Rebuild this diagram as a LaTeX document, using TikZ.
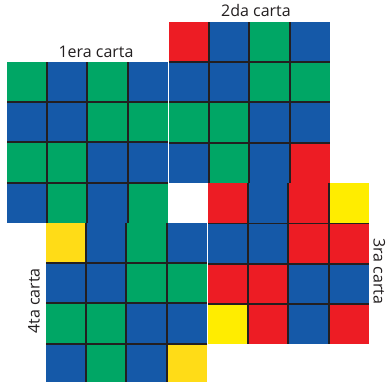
\documentclass[tikz,border=0pt]{standalone}
\usepackage{fontspec}
\setmainfont{Open Sans}
\definecolor{cG}{HTML}{00A665}
\definecolor{cB}{HTML}{1559A8}
\definecolor{cR}{HTML}{ED1C24}
\definecolor{cY}{HTML}{FFED00}
\definecolor{cO}{HTML}{FFDC17}
\definecolor{cLine}{HTML}{231F20}
\tikzset{
  gridline/.style={line width=1.9pt, draw=cLine},
  lbl/.style={font=\fontsize{16}{19}\selectfont, text=cLine, inner sep=0pt}
}
\newcommand\drawcard[3]{%
  \begin{scope}[shift={(#1,#2)}]
    \foreach \rowlist [count=\r from 0] in {#3} {
      \foreach \cc [count=\k from 0] in \rowlist {
        \fill[c\cc] (\k*40.2,\r*40.2) rectangle ++(40.2,40.2);
      }
    }
    \foreach \i in {1,2,3} {
      \draw[gridline] (\i*40.2,0) -- (\i*40.2,160.8);
      \draw[gridline] (0,\i*40.2) -- (160.8,\i*40.2);
    }
  \end{scope}}
\begin{document}
\begin{tikzpicture}[x=1pt,y=-1pt]
  \useasboundingbox (0,0) rectangle (387,381);
  \clip (0,0) rectangle (387,381);
  \fill[white] (0,0) rectangle (387,381);
  % 1st card
  \drawcard{7}{62}{{G,B,G,B},{B,B,G,G},{G,G,B,B},{B,G,B,G}}
  % 2nd card
  \drawcard{169}{22}{{R,B,G,B},{B,B,G,G},{G,G,B,B},{B,G,B,R}}
  % 3rd card
  \drawcard{208}{183.3}{{R,B,R,Y},{B,B,R,R},{R,R,B,B},{Y,R,B,R}}
  % 4th card
  \drawcard{46}{223}{{O,B,G,B},{B,B,G,G},{G,G,B,B},{B,G,B,O}}
  % labels
  \node[lbl] (l1) at (96,51.5) {1era carta};
  \node[lbl] (l2) at (256,10.5) {2da carta};
  \node[lbl, rotate=-90] (l3) at (379.3,271.5) {3ra carta};
  \node[lbl, rotate=90] (l4) at (34,301) {4ta carta};
\end{tikzpicture}
\end{document}
